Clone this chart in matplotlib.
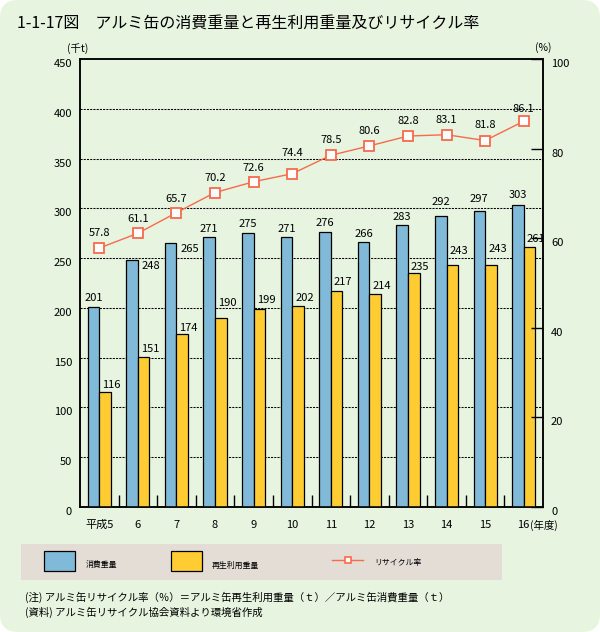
import matplotlib
matplotlib.use('Agg')
import matplotlib.pyplot as plt
from matplotlib.patches import FancyBboxPatch, Rectangle
from matplotlib.lines import Line2D
from matplotlib.transforms import Affine2D, ScaledTranslation
import numpy as np

plt.rcParams['font.family'] = ['Noto Sans CJK JP', 'DejaVu Sans']

# ---- data ----
years = ['平成5', '6', '7', '8', '9', '10', '11', '12', '13', '14', '15', '16']
consumption = [201, 248, 265, 271, 275, 271, 276, 266, 283, 292, 297, 303]
recycled = [116, 151, 174, 190, 199, 202, 217, 214, 235, 243, 243, 261]
rate = [57.8, 61.1, 65.7, 70.2, 72.6, 74.4, 78.5, 80.6, 82.8, 83.1, 81.8, 86.1]
left_ticks = [0, 50, 100, 150, 200, 250, 300, 350, 400, 450]
right_ticks = [0, 20, 40, 60, 80, 100]

title = '1-1-17図　アルミ缶の消費重量と再生利用重量及びリサイクル率'
legend_labels = ['消費重量', '再生利用重量', 'リサイクル率']
note1 = '(注) アルミ缶リサイクル率（％）＝アルミ缶再生利用重量（ｔ）／アルミ缶消費重量（ｔ）'
note2 = '(資料) アルミ缶リサイクル協会資料より環境省作成'

# ---- styles ----
W, H = 600, 632
BG = '#E6F4E0'
LEG_BG = '#E3DDD6'
BLUE = '#80BAD8'
YELLOW = '#FFCD33'
LINE = '#F86A4C'
PT = 0.72  # points per pixel

fig = plt.figure(figsize=(W / 100, H / 100), dpi=100)
fig.patch.set_facecolor('white')
bg = FancyBboxPatch((0, 0), W / 100, H / 100, boxstyle='round,pad=0,rounding_size=0.18',
                    transform=fig.dpi_scale_trans, facecolor=BG, edgecolor='none', zorder=-10)
fig.add_artist(bg)

pix = Affine2D().scale(1 / W, -1 / H).translate(0, 1) + fig.transFigure
down = ScaledTranslation(0, -4 / 100, fig.dpi_scale_trans)

ax = fig.add_axes([80 / W, 1 - 507 / H, 463 / W, 448 / H])
ax.set_facecolor('none')
x = np.arange(len(years))
w = 0.3

# gridlines
for v in left_ticks[1:-1]:
    ax.axhline(v, color='black', lw=0.75, ls=(0, (2, 1.1)), zorder=1)

ax.bar(x - w / 2, consumption, w, color=BLUE, edgecolor='black', lw=0.9, zorder=3)
ax.bar(x + w / 2, recycled, w, color=YELLOW, edgecolor='black', lw=0.9, zorder=3)

ax.set_xlim(-0.5, len(years) - 0.5)
ax.set_ylim(0, 450)
ax.set_yticks(left_ticks)
ax.tick_params(axis='y', length=0, pad=8 * PT, labelsize=8)
for lab in ax.get_yticklabels():
    lab.set_transform(lab.get_transform() + down)
ax.set_xticks(x, years)
ax.tick_params(axis='x', which='major', length=0, pad=13 * PT, labelsize=8)
ax.set_xticks(x[:-1] + 0.5, minor=True)
ax.tick_params(axis='x', which='minor', direction='in', length=12 * PT, width=1.0)
for s in ax.spines.values():
    s.set_linewidth(1.1)

# bar labels
blue_dy = [9, -6, -6, 8, 9, 8, 9, 8, 8, 14, 12, 10]
blue_side = [False, True, True, False, False, False, False, False, False, False, False, False]
for i, v in enumerate(consumption):
    if blue_side[i]:
        ax.annotate(str(v), xy=(x[i], v), xytext=(4 * PT, blue_dy[i] * PT), textcoords='offset points',
                    ha='left', va='center', fontsize=8, zorder=6)
    else:
        ax.annotate(str(v), xy=(x[i] - w / 2, v), xytext=(0, blue_dy[i] * PT), textcoords='offset points',
                    ha='center', va='center', fontsize=8, zorder=6)

yellow_dy = [7, 8, 6, 15, 9, 8, 9, 8, 6, 14, 16, 8]
for i, v in enumerate(recycled):
    ax.annotate(str(v), xy=(x[i], v), xytext=(3 * PT, yellow_dy[i] * PT), textcoords='offset points',
                ha='left', va='center', fontsize=8, zorder=6)

# right axis
ax2 = ax.twinx()
ax2.set_ylim(0, 100)
ax2.set_yticks(right_ticks)
ax2.tick_params(axis='y', direction='in', length=12 * PT, width=1.0, pad=8 * PT, labelsize=8)
for lab in ax2.get_yticklabels():
    lab.set_transform(lab.get_transform() + down)
for s in ax2.spines.values():
    s.set_linewidth(1.1)
ax2.plot(x, rate, color=LINE, lw=1.0, marker='s', ms=6.5, mfc='white', mec=LINE, mew=1.3, zorder=5)
rate_dy = [15, 14, 14, 15, 14, 21, 15, 15, 15, 15, 16, 12]
for i, r in enumerate(rate):
    ax2.annotate(f'{r:.1f}', xy=(x[i], r), xytext=(0, rate_dy[i] * PT), textcoords='offset points',
                 ha='center', va='center', fontsize=8, zorder=6)

# axis unit labels
fig.text(67, 49, '(千t)', transform=pix, fontsize=7.5, ha='left', va='center')
fig.text(552, 48, '(%)', transform=pix, fontsize=7.5, ha='right', va='center')
fig.text(530, 525, '(年度)', transform=pix, fontsize=7.5, ha='left', va='center')

# title
fig.text(17, 24, title, transform=pix, fontsize=11.5, ha='left', va='center')

# legend
fig.add_artist(Rectangle((21, 544), 481, 36, transform=pix, facecolor=LEG_BG, edgecolor='none', zorder=1))
fig.add_artist(Rectangle((44, 551), 31, 20, transform=pix, facecolor=BLUE, edgecolor='black', lw=0.9, zorder=2))
fig.add_artist(Rectangle((171, 551), 31, 20, transform=pix, facecolor=YELLOW, edgecolor='black', lw=0.9, zorder=2))
fig.add_artist(Line2D([332, 363], [560, 560], transform=pix, color=LINE, lw=1.0, zorder=2))
fig.add_artist(Line2D([348], [560], transform=pix, color=LINE, marker='s', ms=5, mfc='white', mec=LINE,
                      mew=1.2, zorder=3))
fig.text(86, 565, legend_labels[0], transform=pix, fontsize=5.7, ha='left', va='center', zorder=3)
fig.text(212, 565, legend_labels[1], transform=pix, fontsize=5.7, ha='left', va='center', zorder=3)
fig.text(374, 563, legend_labels[2], transform=pix, fontsize=5.7, ha='left', va='center', zorder=3)

# notes
fig.text(25, 597, note1, transform=pix, fontsize=7.5, ha='left', va='center')
fig.text(25, 612, note2, transform=pix, fontsize=7.5, ha='left', va='center')

fig.savefig('out.png', dpi=100, facecolor='white')
